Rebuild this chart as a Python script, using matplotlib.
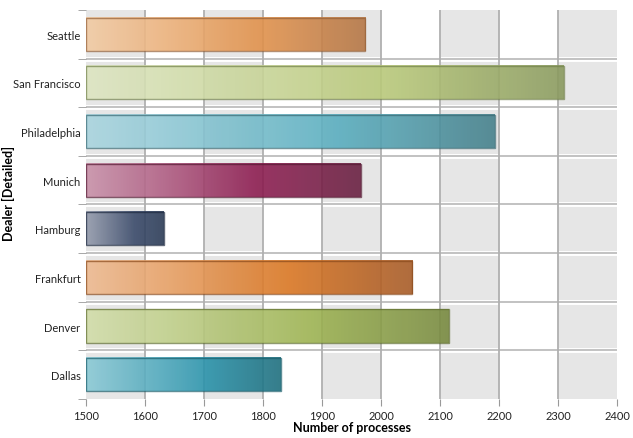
import numpy as np
import matplotlib.pyplot as plt
from matplotlib.colors import LinearSegmentedColormap
from matplotlib.patches import Rectangle

plt.rcParams['font.family'] = ['Lato', 'DejaVu Sans']

dealers = ['Dallas', 'Denver', 'Frankfurt', 'Hamburg', 'Munich',
           'Philadelphia', 'San Francisco', 'Seattle']
processes = [1830, 2115, 2053, 1632, 1966, 2193, 2310, 1973]
# light / mid / dark colour for each bar gradient
bar_colors = [
    ('#8ccad6', '#2a92aa', '#1f6f7e'),
    ('#d2ddaa', '#9db352', '#788a40'),
    ('#eebb92', '#d97622', '#a65b28'),
    ('#959cad', '#3a4a6a', '#2a3a55'),
    ('#c992aa', '#8d1d51', '#6a2242'),
    ('#aad5df', '#5aaebf', '#47818c'),
    ('#dde5c2', '#b9c97a', '#8a9a5f'),
    ('#f2cba4', '#e1924c', '#b57747'),
]
edge_colors = ['#1a5e6b', '#5f6e30', '#8a4a1c', '#1e2a40', '#551a33',
               '#3a6a74', '#73824c', '#946038']

xmin, xmax = 1500, 2400
fig = plt.figure(figsize=(6.33, 4.39), dpi=100)
ax = fig.add_axes([0.136, 0.089, 0.839, 0.886])

# alternating background bands
for i, x0 in enumerate(range(xmin, xmax, 100)):
    if i % 2 == 0:
        ax.axvspan(x0, x0 + 100, color='#e6e6e6', zorder=0, lw=0)

n = len(dealers)
# category separators
for k in range(1, n):
    y = k - 0.5
    ax.axhline(y, color='white', lw=3.5, zorder=1)
    ax.axhline(y, color='#b8b8b8', lw=1.2, zorder=1.1)
for x in range(xmin + 100, xmax, 100):
    ax.axvline(x, color='#b0b0b0', lw=1.3, zorder=1.2)

h = 0.68
grad = np.linspace(0, 1, 256).reshape(1, -1)
for i, (val, cols) in enumerate(zip(processes, bar_colors)):
    cmap = LinearSegmentedColormap.from_list(
        'g%d' % i, [(0, cols[0]), (0.62, cols[1]), (1, cols[2])])
    ax.imshow(grad, cmap=cmap, aspect='auto', alpha=0.9,
              extent=(xmin, val, i - h / 2, i + h / 2), zorder=2)
    ax.add_patch(Rectangle((xmin, i - h / 2), val - xmin, h, fill=False,
                           ec=edge_colors[i], lw=1.0, alpha=0.7, zorder=3))

ax.set_xlim(xmin, xmax)
ax.set_ylim(-0.5, n - 0.5)
ax.set_xticks(range(xmin, xmax + 1, 100))
ax.set_yticks(range(n))
ax.set_yticklabels(dealers)
ax.set_yticks([k - 0.5 for k in range(n + 1)], minor=True)
ax.tick_params(axis='y', which='major', length=0, labelsize=8, pad=4,
               labelcolor='#222222')
ax.tick_params(axis='y', which='minor', length=6, color='#999999')
ax.tick_params(axis='x', length=5, color='#999999', labelsize=8, pad=3,
               labelcolor='#222222')
for s in ax.spines.values():
    s.set_visible(False)

ax.set_xlabel('Number of processes', fontsize=9, fontweight='bold')
ax.set_ylabel('Dealer [Detailed]', fontsize=9, fontweight='bold')
ax.xaxis.set_label_coords(0.5, -0.058)
ax.yaxis.set_label_coords(-0.134, 0.53)

fig.savefig('out.png', dpi=100)
